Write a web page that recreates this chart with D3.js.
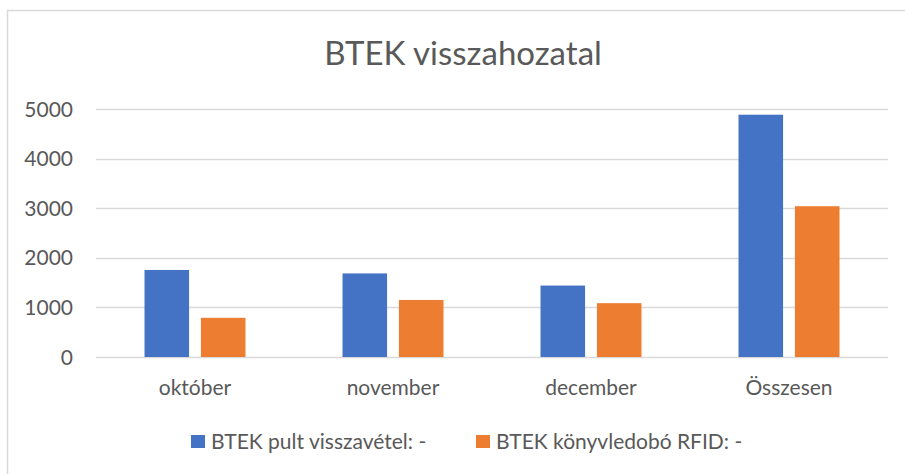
<!DOCTYPE html>
<html>
<head>
<meta charset="utf-8">
<script src="https://cdn.jsdelivr.net/npm/d3@7"></script>
<style>
  html, body { margin: 0; padding: 0; background: #fff; }
  svg { display: block; }
  text { font-family: Lato, 'Open Sans', sans-serif; fill: #595959; }
</style>
</head>
<body>
<div id="chart"></div>
<script>
const title = 'BTEK visszahozatal'
const categories = ['október', 'november', 'december', 'Összesen']
const seriesNames = ['BTEK pult visszavétel: -', 'BTEK könyvledobó RFID: -']
const pultValues = [1755, 1685, 1440, 4885]
const rfidValues = [790, 1150, 1085, 3040]
const yTicks = [0, 1000, 2000, 3000, 4000, 5000]
const colors = ['#4472C4', '#ED7D31']

const width = 905
const height = 474
const plot = { left: 96, right: 888, top: 109, bottom: 357 }

const svg = d3.select('#chart').append('svg')
  .attr('width', width)
  .attr('height', height)

// chart frame (only left/top edges are inside the picture)
svg.append('rect')
  .attr('x', 7.5)
  .attr('y', 10.5)
  .attr('width', width + 20)
  .attr('height', height + 20)
  .attr('fill', '#fff')
  .attr('stroke', '#d9d9d9')
  .attr('stroke-width', 1.5)

const y = d3.scaleLinear().domain([0, 5000]).range([plot.bottom, plot.top])

const x0 = d3.scaleBand()
  .domain(categories)
  .range([plot.left, plot.right])
  .paddingInner(0.49)
  .paddingOuter(0.245)

const x1 = d3.scaleBand()
  .domain(seriesNames)
  .range([0, x0.bandwidth()])
  .paddingInner(0.21)

// grid
svg.append('g').selectAll('line')
  .data(yTicks)
  .enter().append('line')
  .attr('x1', plot.left)
  .attr('x2', plot.right)
  .attr('y1', d => Math.round(y(d)) + 0.5)
  .attr('y2', d => Math.round(y(d)) + 0.5)
  .attr('stroke', '#d9d9d9')
  .attr('stroke-width', 1.3)

// y labels
svg.append('g').selectAll('text')
  .data(yTicks)
  .enter().append('text')
  .attr('x', 73)
  .attr('y', d => y(d) + 7.5)
  .attr('text-anchor', 'end')
  .style('font-size', '21px')
  .text(d => d)

const rows = categories.map((c, i) => ({ cat: c, vals: [pultValues[i], rfidValues[i]] }))

const group = svg.append('g').selectAll('g')
  .data(rows)
  .enter().append('g')
  .attr('transform', d => `translate(${x0(d.cat)},0)`)

group.selectAll('rect')
  .data(d => d.vals.map((v, i) => ({ key: seriesNames[i], value: v, i })))
  .enter().append('rect')
  .attr('x', d => x1(d.key))
  .attr('y', d => y(d.value))
  .attr('width', x1.bandwidth())
  .attr('height', d => y(0) - y(d.value))
  .attr('fill', d => colors[d.i])

// category labels
svg.append('g').selectAll('text')
  .data(categories)
  .enter().append('text')
  .attr('x', d => x0(d) + x0.bandwidth() / 2)
  .attr('y', 395)
  .attr('text-anchor', 'middle')
  .style('font-size', '21px')
  .text(d => d)

// title
svg.append('text')
  .attr('x', 463)
  .attr('y', 65)
  .attr('text-anchor', 'middle')
  .style('font-size', '33px')
  .text(title)

// legend
const legendX = [191, 476]
const legend = svg.append('g').selectAll('g')
  .data(seriesNames)
  .enter().append('g')
  .attr('transform', (d, i) => `translate(${legendX[i]},435)`)

legend.append('rect')
  .attr('width', 14)
  .attr('height', 13)
  .attr('fill', (d, i) => colors[i])

legend.append('text')
  .attr('x', 20)
  .attr('y', 13.5)
  .style('font-size', '21px')
  .text(d => d)
</script>
</body>
</html>
